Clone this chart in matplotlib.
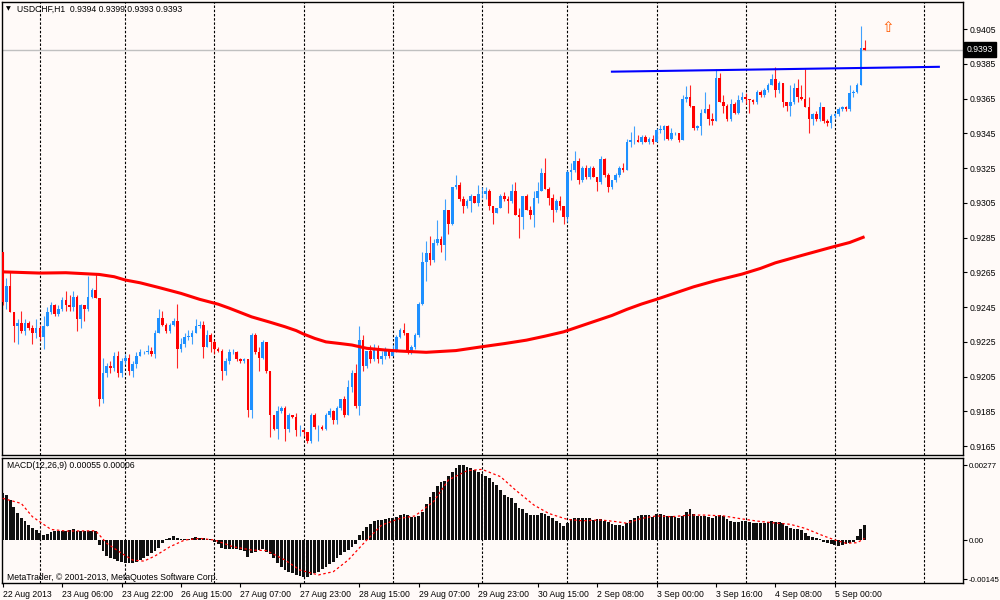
import numpy as np
import matplotlib.pyplot as plt

# USDCHF H1, 22 Aug 2013 14:00 .. 5 Sep 2013 08:00 (bar index = hour count)
first_open = 0.9277
close = [
    0.9248, 0.9257, 0.9242, 0.9234, 0.9236, 0.9231, 0.9236, 0.9233, 0.9230, 0.9233,
    0.9228, 0.9234, 0.9242, 0.9246, 0.9241, 0.9244, 0.9249, 0.9246, 0.9245, 0.9251,
    0.9238, 0.9246, 0.9244, 0.9251, 0.9255, 0.9250, 0.9192, 0.9207, 0.9211, 0.9210,
    0.9217, 0.9207, 0.9214, 0.9216, 0.9208, 0.9212, 0.9217, 0.9219, 0.9219, 0.9220,
    0.9218, 0.9230, 0.9239, 0.9235, 0.9231, 0.9235, 0.9237, 0.9221, 0.9224, 0.9228,
    0.9228, 0.9230, 0.9234, 0.9235, 0.9222, 0.9229, 0.9225, 0.9221, 0.9220, 0.9208,
    0.9214, 0.9219, 0.9219, 0.9215, 0.9214, 0.9215, 0.9186, 0.9229, 0.9219, 0.9216,
    0.9225, 0.9208, 0.9183, 0.9175, 0.9185, 0.9187, 0.9175, 0.9183, 0.9182, 0.9174,
    0.9174, 0.9173, 0.9168, 0.9183, 0.9176, 0.9176, 0.9175, 0.9183, 0.9185, 0.9180,
    0.9187, 0.9192, 0.9183, 0.9199, 0.9207, 0.9188, 0.9226, 0.9211, 0.9220, 0.9215,
    0.9221, 0.9215, 0.9217, 0.9220, 0.9217, 0.9220, 0.9228, 0.9232, 0.9230, 0.9219,
    0.9222, 0.9229, 0.9247, 0.9271, 0.9276, 0.9272, 0.9282, 0.9284, 0.9281, 0.9301,
    0.9293, 0.9314, 0.9315, 0.9307, 0.9303, 0.9306, 0.9309, 0.9305, 0.9310, 0.9310,
    0.9312, 0.9303, 0.9299, 0.9302, 0.9309, 0.9307, 0.9306, 0.9312, 0.9298, 0.9297,
    0.9309, 0.9301, 0.9298, 0.9308, 0.9312, 0.9322, 0.9313, 0.9308, 0.9301, 0.9306,
    0.9303, 0.9297, 0.9323, 0.9324, 0.9329, 0.9318, 0.9325, 0.9320, 0.9325, 0.9320,
    0.9317, 0.9330, 0.9321, 0.9314, 0.9318, 0.9321, 0.9325, 0.9324, 0.9340, 0.9341,
    0.9341, 0.9340, 0.9343, 0.9340, 0.9342, 0.9340, 0.9347, 0.9347, 0.9349, 0.9342,
    0.9345, 0.9345, 0.9341, 0.9365, 0.9366, 0.9361, 0.9348, 0.9349, 0.9357, 0.9359,
    0.9353, 0.9352, 0.9377, 0.9363, 0.9361, 0.9353, 0.9362, 0.9357, 0.9364, 0.9366,
    0.9365, 0.9364, 0.9363, 0.9369, 0.9367, 0.9370, 0.9373, 0.9376, 0.9370, 0.9374,
    0.9363, 0.9361, 0.9363, 0.9371, 0.9366, 0.9365, 0.9360, 0.9353, 0.9356, 0.9353,
    0.9360, 0.9352, 0.9351, 0.9355, 0.9356, 0.9359, 0.9360, 0.9359, 0.9368, 0.9369,
    0.9373, 0.9394, 0.9393,
]
# wick lengths above / below the body, in pips
hi_pips = [
    0, 5, 9, 0, 2, 7, 2, 1, 2, 5, 2, 6, 3, 2, 1, 2, 2, 5, 6, 3,
    1, 1, 0, 12, 1, 9, 0, 9, 2, 3, 2, 3, 2, 2, 2, 2, 2, 2, 1, 3,
    2, 2, 5, 4, 1, 1, 2, 10, 3, 2, 4, 2, 4, 2, 2, 3, 1, 1, 1, 1,
    2, 2, 2, 1, 1, 1, 0, 1, 1, 3, 1, 0, 0, 0, 3, 1, 1, 1, 0, 2,
    3, 1, 0, 1, 1, 1, 1, 1, 2, 1, 1, 0, 2, 4, 2, 5, 8, 3, 0, 3,
    3, 2, 3, 2, 1, 3, 1, 1, 4, 0, 1, 1, 1, 6, 7, 10, 2, 11, 2, 6,
    0, 0, 6, 2, 2, 1, 1, 0, 5, 4, 2, 1, 0, 0, 1, 2, 2, 4, 5, 4,
    0, 1, 2, 4, 5, 3, 9, 1, 2, 1, 3, 0, 1, 4, 6, 2, 1, 2, 1, 1,
    0, 2, 1, 1, 0, 1, 1, 3, 2, 5, 8, 3, 1, 1, 1, 2, 1, 3, 1, 1,
    3, 1, 0, 2, 6, 7, 0, 1, 2, 10, 3, 4, 5, 3, 4, 1, 3, 1, 3, 3,
    2, 0, 1, 1, 1, 1, 1, 3, 7, 1, 0, 0, 10, 3, 5, 7, 17, 6, 1, 2,
    3, 0, 1, 1, 1, 1, 1, 1, 5, 1, 1, 13, 5,
]
lo_pips = [
    2, 4, 0, 9, 10, 1, 2, 1, 6, 3, 2, 7, 0, 1, 1, 1, 1, 3, 2, 2,
    7, 5, 7, 1, 1, 0, 4, 2, 2, 3, 2, 2, 2, 2, 2, 3, 2, 0, 1, 1,
    1, 2, 0, 1, 1, 1, 1, 11, 2, 2, 2, 4, 0, 1, 6, 0, 6, 3, 1, 5,
    2, 2, 1, 1, 1, 1, 4, 5, 1, 8, 1, 1, 13, 1, 6, 1, 7, 2, 1, 3,
    3, 2, 1, 1, 1, 8, 1, 1, 1, 2, 2, 1, 1, 0, 3, 1, 5, 3, 1, 2,
    1, 2, 3, 2, 1, 0, 1, 1, 1, 1, 1, 1, 1, 1, 11, 3, 1, 1, 4, 9,
    6, 1, 1, 1, 4, 1, 6, 0, 2, 2, 3, 2, 6, 0, 0, 1, 7, 1, 0, 12,
    7, 0, 2, 7, 3, 0, 0, 4, 7, 1, 2, 4, 3, 5, 1, 2, 1, 1, 1, 0,
    5, 1, 1, 3, 1, 1, 1, 1, 0, 3, 2, 0, 1, 0, 1, 1, 0, 2, 6, 1,
    1, 1, 1, 0, 2, 1, 1, 1, 5, 0, 3, 2, 0, 0, 4, 1, 1, 1, 1, 1,
    3, 7, 1, 1, 1, 1, 1, 0, 4, 2, 3, 3, 6, 1, 3, 1, 0, 8, 3, 1,
    1, 1, 2, 3, 1, 1, 1, 1, 1, 2, 1, 0, 0,
]

# red moving average, read at sample bars
ma_bar = [0, 10, 17, 26, 30, 33, 37, 42, 48, 53, 58, 61, 67, 72, 76, 79, 81, 84, 87,
          91, 94, 98, 103, 107, 114, 122, 129, 135, 141, 146, 151, 155, 159, 164,
          168, 172, 176, 181, 186, 192, 199, 204, 208, 215, 223, 228, 232]
ma_val = [0.92653, 0.92646, 0.92648, 0.92638, 0.92625, 0.92606, 0.92590, 0.92563,
          0.92529, 0.92495, 0.92467, 0.92444, 0.92394, 0.92363, 0.92337, 0.92315,
          0.92295, 0.92270, 0.92250, 0.92240, 0.92232, 0.92213, 0.92203, 0.92197,
          0.92190, 0.92200, 0.92222, 0.92240, 0.92260, 0.92283, 0.92308, 0.92337,
          0.92366, 0.92402, 0.92437, 0.92468, 0.92495, 0.92531, 0.92567, 0.92603,
          0.92640, 0.92673, 0.92705, 0.92747, 0.92794, 0.92822, 0.92855]

# MACD(12,26,9) histogram, one per bar
macd = [
    0.00175, 0.00166, 0.00148, 0.00123, 0.00098, 0.00080, 0.00071, 0.00055, 0.00043, 0.00037,
    0.00027, 0.00018, 0.00022, 0.00030, 0.00032, 0.00033, 0.00034, 0.00034, 0.00036, 0.00042,
    0.00033, 0.00033, 0.00034, 0.00033, 0.00033, 0.00034, -0.00018, -0.00041, -0.00059, -0.00065,
    -0.00071, -0.00078, -0.00081, -0.00084, -0.00086, -0.00086, -0.00081, -0.00074, -0.00068, -0.00059,
    -0.00049, -0.00041, -0.00028, -0.00010, 0.00002, 0.00009, 0.00015, 0.00006, 0.00005, 0.00005,
    0.00005, 0.00006, 0.00010, 0.00007, 0.00006, 0.00005, 0.00002, -0.00006, -0.00015, -0.00031,
    -0.00033, -0.00033, -0.00033, -0.00034, -0.00037, -0.00039, -0.00062, -0.00047, -0.00043, -0.00037,
    -0.00034, -0.00043, -0.00052, -0.00068, -0.00086, -0.00098, -0.00111, -0.00117, -0.00123, -0.00129,
    -0.00133, -0.00138, -0.00135, -0.00129, -0.00123, -0.00117, -0.00108, -0.00098, -0.00089, -0.00080,
    -0.00068, -0.00055, -0.00043, -0.00037, -0.00025, -0.00015, 0.00018, 0.00033, 0.00047, 0.00059,
    0.00070, 0.00074, 0.00074, 0.00076, 0.00080, 0.00080, 0.00086, 0.00092, 0.00096, 0.00092,
    0.00086, 0.00086, 0.00089, 0.00105, 0.00132, 0.00160, 0.00178, 0.00199, 0.00213, 0.00219,
    0.00236, 0.00252, 0.00265, 0.00277, 0.00277, 0.00271, 0.00265, 0.00259, 0.00252, 0.00244,
    0.00236, 0.00228, 0.00215, 0.00203, 0.00184, 0.00166, 0.00160, 0.00154, 0.00135, 0.00117,
    0.00113, 0.00101, 0.00091, 0.00091, 0.00092, 0.00098, 0.00096, 0.00089, 0.00080, 0.00071,
    0.00064, 0.00052, 0.00062, 0.00076, 0.00081, 0.00080, 0.00080, 0.00081, 0.00080, 0.00074,
    0.00076, 0.00076, 0.00071, 0.00068, 0.00059, 0.00055, 0.00054, 0.00053, 0.00062, 0.00074,
    0.00082, 0.00089, 0.00091, 0.00091, 0.00092, 0.00086, 0.00095, 0.00095, 0.00092, 0.00090,
    0.00089, 0.00084, 0.00080, 0.00089, 0.00105, 0.00113, 0.00096, 0.00089, 0.00089, 0.00089,
    0.00084, 0.00080, 0.00089, 0.00091, 0.00089, 0.00078, 0.00071, 0.00068, 0.00068, 0.00071,
    0.00071, 0.00068, 0.00062, 0.00064, 0.00064, 0.00064, 0.00065, 0.00070, 0.00068, 0.00068,
    0.00062, 0.00052, 0.00043, 0.00039, 0.00042, 0.00037, 0.00027, 0.00015, 0.00010, 0.00006,
    0.00004, -0.00006, -0.00010, -0.00016, -0.00018, -0.00021, -0.00018, -0.00015, -0.00012, -0.00009,
    0.00015, 0.00039, 0.00055,
]
sig_bar = [0, 5, 8, 13, 17, 25, 28, 32, 35, 38, 41, 45, 49, 53, 57, 62, 67, 71, 76, 80,
           85, 89, 93, 98, 102, 107, 111, 116, 120, 125, 129, 134, 138, 143, 147, 152,
           156, 161, 165, 168, 172, 176, 180, 185, 189, 194, 198, 203, 207, 212, 216,
           221, 224, 227, 230, 232]
sig_val = [0.00154, 0.00135, 0.00086, 0.00039, 0.00033, 0.00034, -0.00012, -0.00049,
           -0.00074, -0.00078, -0.00059, -0.00025, 0.0, 0.00006, 0.0, -0.00025, -0.00037,
           -0.00039, -0.00074, -0.00111, -0.00129, -0.00117, -0.00074, 0.0, 0.00055,
           0.00080, 0.00089, 0.00142, 0.00222, 0.00256, 0.00261, 0.00234, 0.00185, 0.00129,
           0.00098, 0.00076, 0.00071, 0.00074, 0.00068, 0.00062, 0.00080, 0.00089, 0.00086,
           0.00092, 0.00092, 0.00089, 0.00080, 0.00070, 0.00064, 0.00058, 0.00043, 0.00015,
           0.0, -0.00012, -0.00010, 0.00006]

tick_bars = list(range(0, 225, 16))
tick_labels = ["22 Aug 2013", "23 Aug 06:00", "23 Aug 22:00", "26 Aug 15:00",
               "27 Aug 07:00", "27 Aug 23:00", "28 Aug 15:00", "29 Aug 07:00",
               "29 Aug 23:00", "30 Aug 15:00", "2 Sep 08:00", "3 Sep 00:00",
               "3 Sep 16:00", "4 Sep 08:00", "5 Sep 00:00"]
day_bars = [10, 33, 57, 81, 105, 129, 152, 176, 200, 224, 248]
price_ticks = [0.9165, 0.9185, 0.9205, 0.9225, 0.9245, 0.9265, 0.9285,
               0.9305, 0.9325, 0.9345, 0.9365, 0.9385, 0.9405]
macd_ticks = [0.00277, 0.0, -0.00145]
trend_bar = [164, 252]
trend_val = [0.93805, 0.93833]
bid = 0.9393

BG = '#fffaf8'
BULL = '#1e90ff'
BEAR = '#ff0000'
FONT = ['Liberation Sans', 'DejaVu Sans']
FS = 6.2

plt.rcParams['font.family'] = FONT

c = np.array(close)
o = np.r_[first_open, c[:-1]]
x = np.arange(len(c))
hi = np.maximum(o, c) + np.array(hi_pips) * 0.0001
lo = np.minimum(o, c) - np.array(lo_pips) * 0.0001
cols = np.where(c >= o, BULL, BEAR)

fig = plt.figure(figsize=(10, 6), dpi=100, facecolor=BG)
ax1 = fig.add_axes([0.002, 1 - 455 / 600, 0.961, 453 / 600], facecolor=BG)
ax2 = fig.add_axes([0.002, 1 - 582.7 / 600, 0.961, 125.2 / 600], facecolor=BG)
xlim = (-0.19, 258.5)

for ax in (ax1, ax2):
    ax.set_xlim(*xlim)
    for s in ax.spines.values():
        s.set_color('black')
        s.set_linewidth(1)
    ax.vlines(day_bars, 0, 1, transform=ax.get_xaxis_transform(),
              colors='black', linestyles=(0, (2.2, 1.6)), linewidths=0.8, zorder=1)
    ax.yaxis.tick_right()
    ax.tick_params(axis='y', which='both', length=3, width=0.8, pad=1.5,
                   labelsize=FS, colors='black')

# price panel
ax1.set_ylim(0.91599, 0.94206)
ax1.axhline(bid, color='#c0c0c0', lw=1, zorder=1)
ax1.vlines(x, lo, hi, colors=cols, linewidths=0.8, alpha=0.85, zorder=3)
ax1.bar(x, np.maximum(np.abs(c - o), 0.00003), bottom=np.minimum(o, c),
        width=0.7, color=cols, linewidth=0, zorder=4)
ax1.plot(ma_bar, ma_val, color='#ff0000', lw=2.2, solid_capstyle='butt',
         solid_joinstyle='round', zorder=5)
ax1.plot(trend_bar, trend_val, color='#0000ff', lw=1.5, zorder=5)
ax1.set_yticks(price_ticks, [f"{p:.4f}" for p in price_ticks])
ax1.set_xticks([])
ax1.text(238.3, 0.94062, '\u21e7', color='#ff5a00', fontsize=11,
         ha='center', va='center', family='DejaVu Sans', zorder=6)

# MACD panel
ax2.set_ylim(-0.001577, 0.003047)
ax2.bar(x, macd, width=0.75, color='#101010', linewidth=0, zorder=3)
ax2.plot(sig_bar, sig_val, color='#ff0000', lw=0.9, ls=(0, (2, 2)), zorder=4)
ax2.set_yticks(macd_ticks, ["0.00277", "0.00", "-0.00145"])
ax2.tick_params(axis='y', labelsize=5.7, pad=1)
ax2.set_xticks(tick_bars, tick_labels)
ax2.tick_params(axis='x', length=3, width=0.8, pad=2.5, labelsize=FS, colors='black')
for t in ax2.get_xticklabels():
    t.set_ha('left')

# header texts
fig.text(6 / 1000, 1 - 9 / 600, '\u25bc', fontsize=4.5, family='DejaVu Sans',
         va='center', ha='left')
fig.text(17 / 1000, 1 - 9 / 600, 'USDCHF,H1  0.9394 0.9399 0.9393 0.9393',
         fontsize=FS, va='center', ha='left')
fig.text(7 / 1000, 1 - 466 / 600, 'MACD(12,26,9) 0.00055 0.00006',
         fontsize=FS, va='center', ha='left')
fig.text(7 / 1000, 1 - 577 / 600, 'MetaTrader, \u00a9 2001-2013, MetaQuotes Software Corp.',
         fontsize=FS, va='center', ha='left')
fig.text(967 / 1000, 1 - 49.5 / 600, '0.9393', fontsize=FS,
         color='white', va='center', ha='left',
         bbox=dict(boxstyle='square,pad=0.3', fc='black', ec='black'))

fig.savefig('out.png', dpi=100, facecolor=BG)
